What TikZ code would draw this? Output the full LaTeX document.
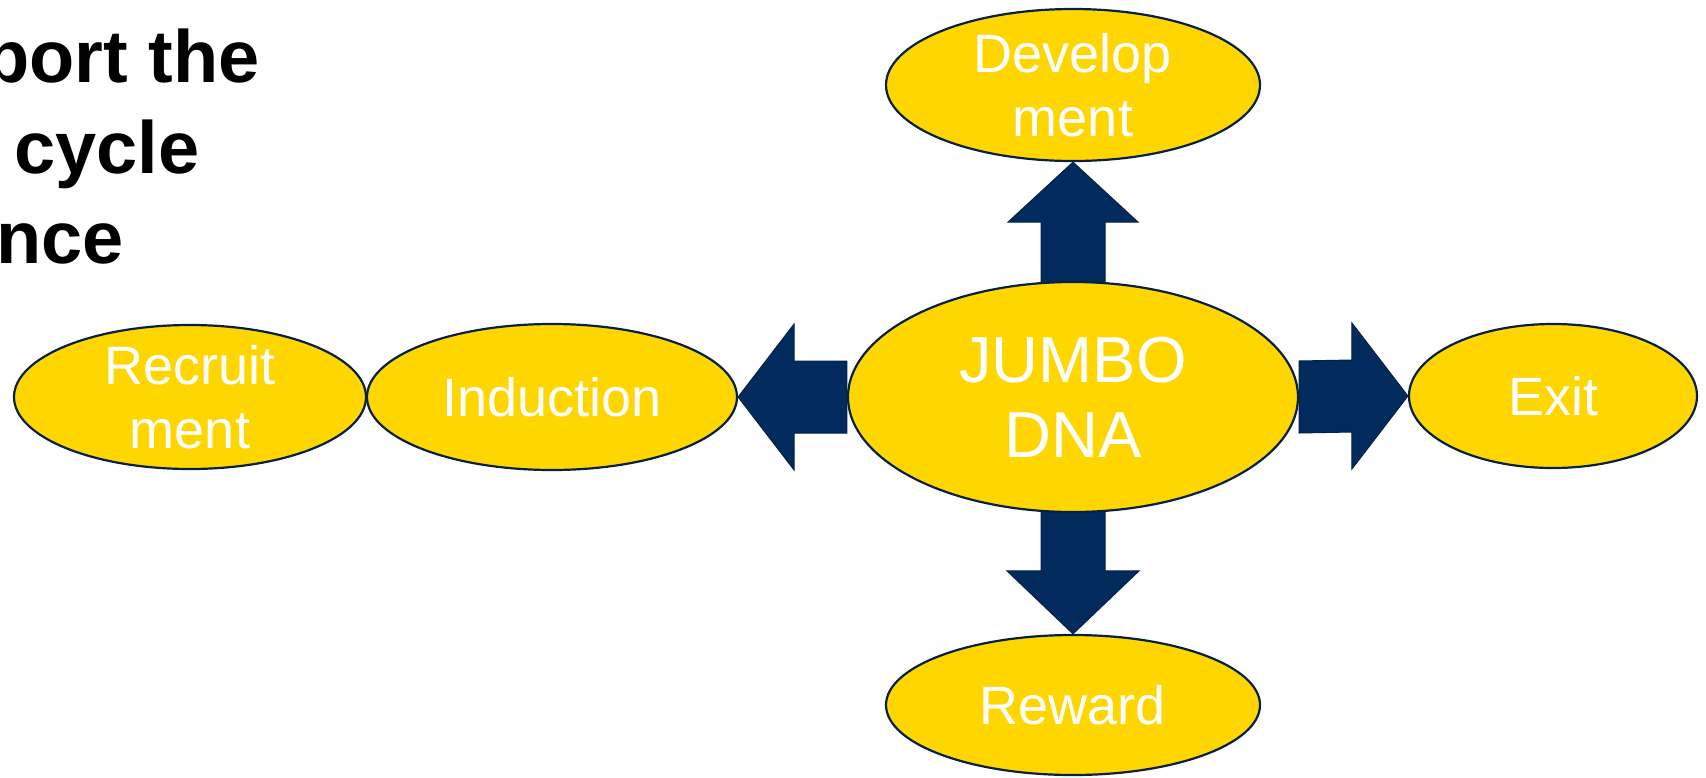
\documentclass[tikz,border=0pt]{standalone}
\usepackage{fontspec}
\setmainfont{Liberation Sans}
\usetikzlibrary{shapes.geometric,calc}
\pgfdeclarelayer{background}
\pgfsetlayers{background,main}
\definecolor{gold}{RGB}{255,214,0}
\definecolor{navy}{RGB}{0,43,92}
\definecolor{navyline}{RGB}{6,32,70}
\tikzset{
  stage/.style={ellipse, draw=navyline, line width=2.2pt, fill=gold, inner sep=0pt},
  stagetext/.style={text=white, align=center, inner sep=0pt,
    font=\fontsize{54}{64}\selectfont},
  coretext/.style={text=white, align=center, inner sep=0pt,
    font=\fontsize{65}{75}\selectfont},
  headline/.style={anchor=base west, inner sep=0pt,
    font=\fontsize{74}{90}\selectfont\bfseries},
  blockarrow/.style={fill=navy, draw=navyline, line width=1pt, line join=miter}
}
\begin{document}
\begin{tikzpicture}[x=1pt, y=-1pt]
\useasboundingbox (0,0) rectangle (1706,777);
\clip (0,0) rectangle (1706,777);

% heading lines at the top left
\node[headline] (h1) at (-16,82) {port the};
\node[headline] (h2) at (14,173) {cycle};
\node[headline] (h3) at (-4,263) {nce};

% stages of the cycle
\node[stage, minimum width=450pt, minimum height=230pt] (jumbo) at (1073,397) {};
\node[stage, minimum width=374pt, minimum height=152pt] (dev) at (1073,85) {};
\node[stage, minimum width=374pt, minimum height=140pt] (reward) at (1073,705) {};
\node[stage, minimum width=352pt, minimum height=144pt] (rec) at (190,397) {};
\node[stage, minimum width=370pt, minimum height=146pt] (ind) at (552,397) {};
\node[stage, minimum width=288pt, minimum height=144pt] (exit) at (1553,396) {};

\node[coretext] (jumbotxt) at (jumbo.center) {JUMBO\\DNA};
\node[stagetext] (devtxt) at (dev.center) {Develop\\ment};
\node[stagetext] (rewardtxt) at (reward.center) {Reward};
\node[stagetext] (rectxt) at (rec.center) {Recruit\\ment};
\node[stagetext] (indtxt) at (ind.center) {Induction};
\node[stagetext] (exittxt) at (exit.center) {Exit};

% block arrows from the core out to the stages
\begin{pgfonlayer}{background}
\draw[blockarrow] ($(jumbo.west)+(0,-36)$) -- ($(ind.east)+(56,-36)$)
  -- ($(ind.east)+(56,-73)$) -- (ind.east) -- ($(ind.east)+(56,73)$)
  -- ($(ind.east)+(56,36)$) -- ($(jumbo.west)+(0,36)$) -- cycle;
\draw[blockarrow] ($(jumbo.east)+(0,-36)$) -- ($(exit.west)+(-56,-36)$)
  -- ($(exit.west)+(-56,-73)$) -- (exit.west) -- ($(exit.west)+(-56,73)$)
  -- ($(exit.west)+(-56,36)$) -- ($(jumbo.east)+(0,36)$) -- cycle;
\draw[blockarrow] ($(jumbo.north)+(-32,2)$) -- ($(dev.south)+(-32,60)$)
  -- ($(dev.south)+(-65,60)$) -- (dev.south) -- ($(dev.south)+(65,60)$)
  -- ($(dev.south)+(32,60)$) -- ($(jumbo.north)+(32,2)$) -- cycle;
\draw[blockarrow] ($(jumbo.south)+(-32,-2)$) -- ($(reward.north)+(-32,-63)$)
  -- ($(reward.north)+(-66,-63)$) -- (reward.north) -- ($(reward.north)+(66,-63)$)
  -- ($(reward.north)+(32,-63)$) -- ($(jumbo.south)+(32,-2)$) -- cycle;
\end{pgfonlayer}
\end{tikzpicture}
\end{document}
